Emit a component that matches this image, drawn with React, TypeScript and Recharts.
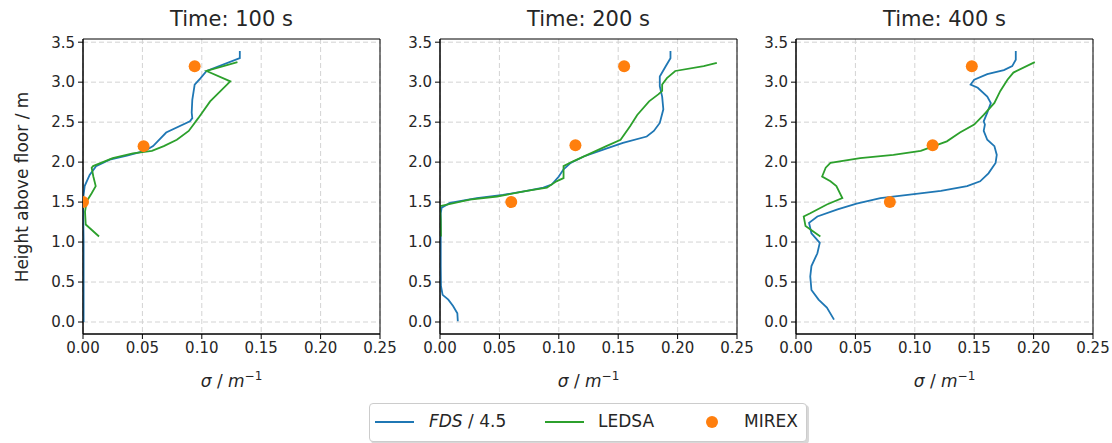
import React from "react";
import {
  ComposedChart,
  Line,
  Scatter,
  XAxis,
  YAxis,
  CartesianGrid,
  ReferenceArea,
} from "recharts";

// [sigma (1/m), height (m)]
const fds100: [number, number][] = [
  [0.0005, 0.0], [0.0005, 0.5], [0.0005, 1.0], [0.0, 1.53], [0.0014, 1.7], [0.0056, 1.84],
  [0.011, 1.95], [0.0225, 2.03], [0.037, 2.08], [0.052, 2.14], [0.059, 2.2], [0.07, 2.37],
  [0.09, 2.51], [0.092, 2.55], [0.0915, 2.62], [0.092, 2.78], [0.094, 2.97], [0.099, 3.05],
  [0.104, 3.14], [0.132, 3.3], [0.132, 3.39],
];
const ledsa100: [number, number][] = [
  [0.0135, 1.07], [0.0023, 1.22], [0.0017, 1.38], [0.0031, 1.51], [0.0073, 1.61], [0.0107, 1.7],
  [0.0087, 1.82], [0.0073, 1.93], [0.0085, 1.95], [0.025, 2.05], [0.042, 2.11], [0.058, 2.14],
  [0.068, 2.2], [0.079, 2.28], [0.089, 2.39], [0.097, 2.55], [0.107, 2.76], [0.124, 3.01],
  [0.104, 3.14], [0.13, 3.25],
];
const mirex100: [number, number][] = [[0.094, 3.2], [0.051, 2.2], [0.0, 1.5]];

const fds200: [number, number][] = [
  [0.015, 0.01], [0.0146, 0.11], [0.011, 0.2], [0.007, 0.28], [0.0022, 0.34], [0.0008, 0.45],
  [0.0006, 0.7], [0.0006, 1.11], [0.0006, 1.36], [0.0014, 1.43], [0.0084, 1.49], [0.031, 1.55],
  [0.053, 1.59], [0.073, 1.64], [0.087, 1.68], [0.094, 1.72], [0.1, 1.82], [0.104, 1.91],
  [0.11, 1.99], [0.121, 2.07], [0.138, 2.16], [0.154, 2.24], [0.174, 2.32], [0.18, 2.39],
  [0.185, 2.49], [0.188, 2.66], [0.187, 2.82], [0.185, 2.95], [0.185, 3.07], [0.19, 3.2],
  [0.194, 3.3], [0.194, 3.39],
];
const ledsa200: [number, number][] = [
  [0.0008, 1.07], [0.0006, 1.28], [0.0, 1.45], [0.025, 1.53], [0.048, 1.57], [0.073, 1.64],
  [0.09, 1.68], [0.098, 1.76], [0.104, 1.8], [0.104, 1.95], [0.112, 2.01], [0.124, 2.09],
  [0.14, 2.2], [0.152, 2.28], [0.16, 2.45], [0.166, 2.59], [0.176, 2.76], [0.184, 2.85],
  [0.187, 2.89], [0.187, 2.97], [0.191, 3.05], [0.198, 3.14], [0.222, 3.2], [0.233, 3.24],
];
const mirex200: [number, number][] = [[0.155, 3.2], [0.114, 2.21], [0.06, 1.5]];

const fds400: [number, number][] = [
  [0.032, 0.03], [0.026, 0.18], [0.019, 0.28], [0.013, 0.4], [0.012, 0.57], [0.013, 0.7],
  [0.018, 0.86], [0.02, 0.99], [0.013, 1.11], [0.011, 1.24], [0.018, 1.32], [0.035, 1.41],
  [0.051, 1.48], [0.071, 1.55], [0.094, 1.59], [0.122, 1.64], [0.144, 1.7], [0.155, 1.76],
  [0.162, 1.86], [0.168, 1.99], [0.169, 2.09], [0.167, 2.2], [0.161, 2.28], [0.158, 2.39],
  [0.159, 2.47], [0.158, 2.51], [0.161, 2.62], [0.164, 2.74], [0.161, 2.82], [0.153, 2.93],
  [0.147, 2.97], [0.15, 3.03], [0.161, 3.1], [0.175, 3.15], [0.182, 3.2], [0.185, 3.28],
  [0.185, 3.39],
];
const ledsa400: [number, number][] = [
  [0.0205, 1.07], [0.008, 1.2], [0.0065, 1.32], [0.012, 1.36], [0.026, 1.47], [0.039, 1.55],
  [0.034, 1.7], [0.029, 1.76], [0.022, 1.82], [0.025, 1.93], [0.029, 1.99], [0.054, 2.05],
  [0.082, 2.09], [0.105, 2.14], [0.116, 2.2], [0.127, 2.26], [0.138, 2.37], [0.15, 2.47],
  [0.158, 2.59], [0.167, 2.74], [0.172, 2.89], [0.178, 3.03], [0.183, 3.12], [0.201, 3.25],
];
const mirex400: [number, number][] = [[0.148, 3.2], [0.115, 2.21], [0.079, 1.5]];

const titles = ["Time: 100 s", "Time: 200 s", "Time: 400 s"];
const xTicks = [0, 0.05, 0.1, 0.15, 0.2, 0.25];
const yTicks = [0, 0.5, 1, 1.5, 2, 2.5, 3, 3.5];
const legendLabels = ["FDS", "LEDSA", "MIREX"];

const BLUE = "#1f77b4";
const GREEN = "#2ca02c";
const ORANGE = "#ff7f0e";
const FONT = "'DejaVu Sans', sans-serif";
const TEXT = "#262626";

const panels = [
  { title: titles[0], fds: fds100, ledsa: ledsa100, mirex: mirex100, left: 83 },
  { title: titles[1], fds: fds200, ledsa: ledsa200, mirex: mirex200, left: 440 },
  { title: titles[2], fds: fds400, ledsa: ledsa400, mirex: mirex400, left: 796 },
];

const toPts = (arr: [number, number][]) => arr.map(([v, h]) => ({ v, h }));

const PLOT_W = 297;
const PLOT_TOP = 39;
const PLOT_H = 295;
const YAXIS_W = 50;
const M_LEFT = 10;
const M_RIGHT = 18;
const CHART_H = 400;
const XAXIS_H = 30;
const Y_DOMAIN: [number, number] = [-0.15, 3.54];
const X_DOMAIN: [number, number] = [0, 0.25];

function Panel({ p }: { p: (typeof panels)[number] }) {
  const chartW = M_LEFT + YAXIS_W + PLOT_W + M_RIGHT;
  const bottom = CHART_H - PLOT_TOP - PLOT_H - XAXIS_H;
  const tickStyle = { fontSize: 15, fill: TEXT, fontFamily: FONT };
  return (
    <div style={{ position: "absolute", left: p.left - M_LEFT - YAXIS_W, top: 0 }}>
      <ComposedChart
        width={chartW}
        height={CHART_H}
        margin={{ top: PLOT_TOP, right: M_RIGHT, bottom, left: M_LEFT }}
      >
        <CartesianGrid
          xAxisId="b"
          yAxisId="l"
          stroke="#d3d3d3"
          strokeDasharray="5 3"
          horizontalValues={yTicks}
          verticalValues={xTicks}
        />
        <XAxis
          xAxisId="b"
          type="number"
          dataKey="v"
          domain={X_DOMAIN}
          ticks={xTicks}
          allowDataOverflow
          tickFormatter={(t: number) => t.toFixed(2)}
          tick={tickStyle}
          tickSize={5}
          tickMargin={3}
          height={XAXIS_H}
          stroke="#000"
          tickLine={{ stroke: "#000" }}
          interval={0}
        />
        <YAxis
          yAxisId="l"
          type="number"
          dataKey="h"
          domain={Y_DOMAIN}
          ticks={yTicks}
          allowDataOverflow
          tickFormatter={(t: number) => t.toFixed(1)}
          tick={tickStyle}
          tickSize={5}
          tickMargin={3}
          width={YAXIS_W}
          stroke="#000"
          tickLine={{ stroke: "#000" }}
          interval={0}
        />
        <ReferenceArea
          xAxisId="b"
          yAxisId="l"
          x1={X_DOMAIN[0]}
          x2={X_DOMAIN[1]}
          y1={Y_DOMAIN[0]}
          y2={Y_DOMAIN[1]}
          fill="none"
          fillOpacity={0}
          stroke="#000"
          strokeWidth={1}
          ifOverflow="visible"
        />
        <Line
          xAxisId="b"
          yAxisId="l"
          data={toPts(p.fds)}
          dataKey="h"
          type="linear"
          stroke={BLUE}
          strokeWidth={1.8}
          dot={false}
          isAnimationActive={false}
        />
        <Line
          xAxisId="b"
          yAxisId="l"
          data={toPts(p.ledsa)}
          dataKey="h"
          type="linear"
          stroke={GREEN}
          strokeWidth={1.8}
          dot={false}
          isAnimationActive={false}
        />
        <Scatter
          xAxisId="b"
          yAxisId="l"
          data={toPts(p.mirex)}
          dataKey="h"
          fill={ORANGE}
          shape={(props: any) => <circle cx={props.cx} cy={props.cy} r={6} fill={ORANGE} />}
          isAnimationActive={false}
        />
      </ComposedChart>
      <div
        style={{
          position: "absolute",
          left: M_LEFT + YAXIS_W,
          width: PLOT_W,
          top: 7,
          textAlign: "center",
          fontFamily: FONT,
          fontSize: 21,
          color: TEXT,
          whiteSpace: "nowrap",
        }}
      >
        {p.title}
      </div>
      <div
        style={{
          position: "absolute",
          left: M_LEFT + YAXIS_W,
          width: PLOT_W,
          top: 369,
          textAlign: "center",
          fontFamily: FONT,
          fontSize: 17,
          color: TEXT,
          whiteSpace: "nowrap",
        }}
      >
        <i>σ</i> / <i>m</i>
        <sup style={{ fontSize: 12 }}>−1</sup>
      </div>
    </div>
  );
}

export default function App() {
  return (
    <div
      style={{
        position: "absolute",
        left: 0,
        top: 0,
        width: 1112,
        height: 443,
        background: "#fff",
        overflow: "hidden",
      }}
    >
      {panels.map((p, i) => (
        <Panel key={i} p={p} />
      ))}
      <div
        style={{
          position: "absolute",
          left: 22,
          top: 187,
          transform: "translate(-50%, -50%) rotate(-90deg)",
          fontFamily: FONT,
          fontSize: 17,
          color: TEXT,
          whiteSpace: "nowrap",
        }}
      >
        Height above floor / m
      </div>
      <div
        style={{
          position: "absolute",
          left: 369,
          top: 403,
          width: 436,
          height: 37,
          border: "1px solid #cccccc",
          borderRadius: 4,
          background: "#fff",
          boxShadow: "2px 2px 0 #d8d8d8",
          fontFamily: FONT,
          fontSize: 17,
          color: TEXT,
        }}
      >
        <div style={{ position: "absolute", left: 5, top: 17, width: 39, height: 2, background: BLUE }} />
        <div style={{ position: "absolute", left: 59, top: 7, whiteSpace: "nowrap" }}>
          <i>{legendLabels[0]}</i> / 4.5
        </div>
        <div style={{ position: "absolute", left: 175, top: 17, width: 39, height: 2, background: GREEN }} />
        <div style={{ position: "absolute", left: 228, top: 7, whiteSpace: "nowrap" }}>{legendLabels[1]}</div>
        <div
          style={{
            position: "absolute",
            left: 336,
            top: 12,
            width: 12,
            height: 12,
            borderRadius: 6,
            background: ORANGE,
          }}
        />
        <div style={{ position: "absolute", left: 374, top: 7, whiteSpace: "nowrap" }}>{legendLabels[2]}</div>
      </div>
    </div>
  );
}
